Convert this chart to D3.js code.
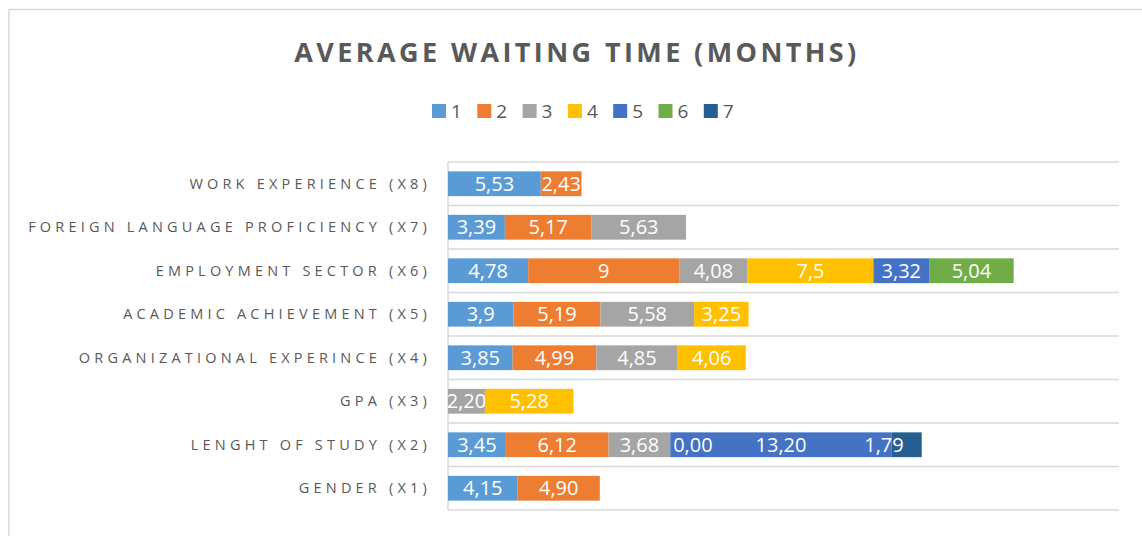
<!DOCTYPE html>
<html lang="en">
<head>
  <meta charset="UTF-8">
  <title>Average waiting time (months)</title>
  <script src="https://d3js.org/d3.v7.min.js"></script>
  <style>
    body { margin: 0; background: #fff; }
    text { font-family: "Open Sans", "Noto Sans", sans-serif; }
  </style>
</head>
<body>
  <div id="chart"></div>
  <script>
    // categories, top to bottom as in the chart
    const categories = [
      "WORK EXPERIENCE (X8)",
      "FOREIGN LANGUAGE PROFICIENCY (X7)",
      "EMPLOYMENT SECTOR (X6)",
      "ACADEMIC ACHIEVEMENT (X5)",
      "ORGANIZATIONAL EXPERINCE (X4)",
      "GPA (X3)",
      "LENGHT OF STUDY (X2)",
      "GENDER (X1)"
    ];
    // rows whose labels use a fixed two-decimal number format
    const fixedDecimals = [null, null, null, null, null, 2, 2, 2];

    const seriesNames = ["1", "2", "3", "4", "5", "6", "7"];
    const s1 = [5.53, 3.39, 4.78, 3.9, 3.85, null, 3.45, 4.15];
    const s2 = [2.43, 5.17, 9, 5.19, 4.99, null, 6.12, 4.90];
    const s3 = [null, 5.63, 4.08, 5.58, 4.85, 2.20, 3.68, null];
    const s4 = [null, null, 7.5, 3.25, 4.06, 5.28, 0, null];
    const s5 = [null, null, 3.32, null, null, null, 13.20, null];
    const s6 = [null, null, 5.04, null, null, null, null, null];
    const s7 = [null, null, null, null, null, null, 1.79, null];
    const seriesValues = [s1, s2, s3, s4, s5, s6, s7];

    const colors = ["#5B9BD5", "#ED7D31", "#A5A5A5", "#FFC000", "#4472C4", "#70AD47", "#255E91"];

    const W = 1142, H = 536;
    const margin = { top: 162, right: 23, bottom: 26, left: 448 };

    const svg = d3.select("#chart").append("svg")
      .attr("width", W).attr("height", H);

    // outer chart border
    svg.append("rect")
      .attr("x", 9).attr("y", 9.5)
      .attr("width", W + 20).attr("height", H + 20)
      .attr("fill", "none").attr("stroke", "#d9d9d9").attr("stroke-width", 1.5);

    // title
    svg.append("text")
      .attr("x", 577).attr("y", 62)
      .attr("text-anchor", "middle")
      .attr("font-size", 27).attr("font-weight", 700)
      .attr("letter-spacing", 3.4)
      .attr("fill", "#595959")
      .text("AVERAGE WAITING TIME (MONTHS)");

    // legend
    const legend = svg.append("g").attr("transform", "translate(432,104)");
    const item = legend.selectAll("g").data(seriesNames).enter().append("g")
      .attr("transform", (d, i) => `translate(${i * 45.3},0)`);
    item.append("rect").attr("width", 14).attr("height", 14)
      .attr("fill", (d, i) => colors[i]);
    item.append("text").attr("x", 19).attr("y", 14)
      .attr("font-family", "Noto Sans").attr("font-size", 19)
      .attr("fill", "#595959").text(d => d);

    const x = d3.scaleLinear().domain([0, 40]).range([margin.left, W - margin.right]);
    const y = d3.scaleBand().domain(categories)
      .range([margin.top, H - margin.bottom]).paddingInner(0.43).paddingOuter(0.215);

    // horizontal gridlines at category boundaries
    const step = (H - margin.bottom - margin.top) / categories.length;
    svg.append("g").selectAll("line")
      .data(d3.range(categories.length + 1)).enter().append("line")
      .attr("x1", margin.left).attr("x2", W - margin.right)
      .attr("y1", d => margin.top + d * step).attr("y2", d => margin.top + d * step)
      .attr("stroke", "#d9d9d9").attr("stroke-width", 1.5);
    svg.append("line")
      .attr("x1", margin.left).attr("x2", margin.left)
      .attr("y1", margin.top).attr("y2", H - margin.bottom)
      .attr("stroke", "#d9d9d9").attr("stroke-width", 1.5);

    // category labels
    svg.append("g").selectAll("text").data(categories).enter().append("text")
      .attr("x", 431).attr("y", d => y(d) + y.bandwidth() / 2 + 5)
      .attr("text-anchor", "end")
      .attr("font-size", 14.5).attr("letter-spacing", 4.2)
      .attr("fill", "#595959").text(d => d);

    // stacked segments
    const segs = [];
    categories.forEach((c, ci) => {
      let acc = 0;
      seriesValues.forEach((vals, si) => {
        const v = vals[ci];
        if (v === null) return;
        segs.push({ c, ci, si, v, x0: acc, x1: acc + v });
        acc += v;
      });
    });
    const totals = categories.map((c, ci) => d3.sum(seriesValues, vals => vals[ci] || 0));
    const lastIdx = {};
    segs.forEach((d, i) => { lastIdx[d.ci] = i; });

    svg.append("g").selectAll("rect").data(segs).enter().append("rect")
      .attr("x", d => x(d.x0)).attr("width", d => x(d.x1) - x(d.x0))
      .attr("y", d => y(d.c)).attr("height", y.bandwidth())
      .attr("fill", d => colors[d.si]);

    const fmt = d => fixedDecimals[d.ci] !== null
      ? d.v.toFixed(fixedDecimals[d.ci]).replace(".", ",")
      : String(d.v).replace(".", ",");

    // data labels, centred, nudged right when they collide with the previous one,
    // and kept inside the end of the bar when the last segment is narrow
    const labels = svg.append("g").selectAll("text").data(segs).enter().append("text")
      .attr("y", d => y(d.c) + y.bandwidth() / 2 + 7)
      .attr("text-anchor", "middle")
      .attr("font-family", "Noto Sans").attr("font-size", 20)
      .attr("fill", "#fff").text(fmt)
      .attr("x", d => (x(d.x0) + x(d.x1)) / 2);

    const prevRight = {};
    labels.each(function(d, i) {
      const w = this.getComputedTextLength();
      let cx = (x(d.x0) + x(d.x1)) / 2;
      if (prevRight[d.ci] !== undefined && cx - w / 2 < prevRight[d.ci] + 14) {
        cx = prevRight[d.ci] + 14 + w / 2;
      }
      const end = x(totals[d.ci]);
      if (lastIdx[d.ci] === i && x(d.x1) - x(d.x0) < w && cx + w / 2 > end - 18) {
        cx = end - 18 - w / 2;
      }
      d3.select(this).attr("x", cx);
      prevRight[d.ci] = cx + w / 2;
    });
  </script>
</body>
</html>
